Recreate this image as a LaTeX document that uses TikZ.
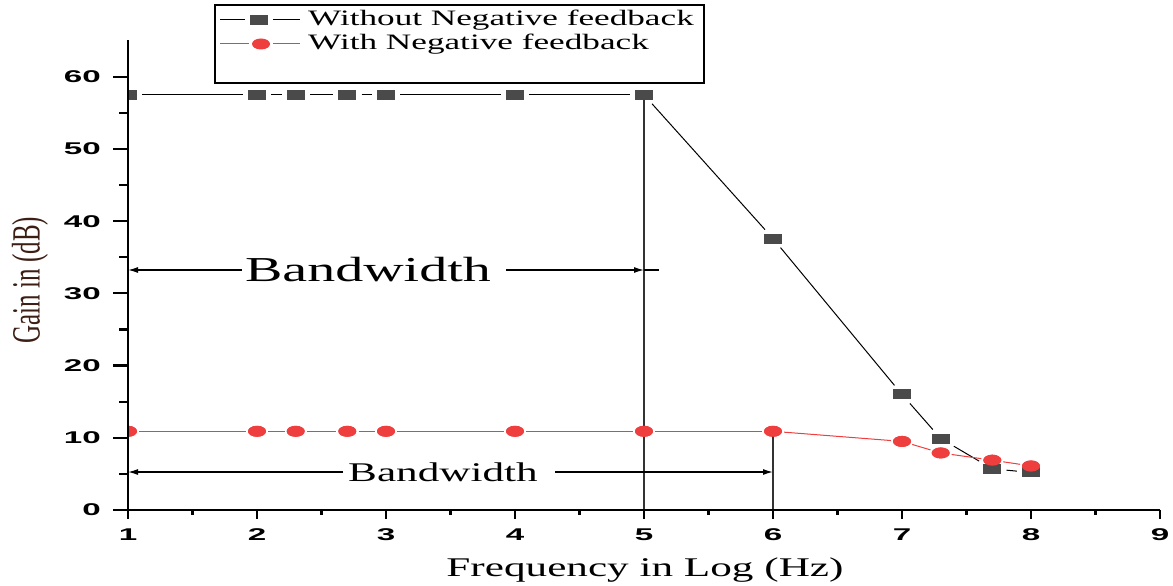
\documentclass[tikz,border=0pt]{standalone}
\usepackage{fontspec}
\usepackage{graphicx}
\usetikzlibrary{arrows.meta,shapes.geometric}
\newfontfamily\serifw{Liberation Serif}[FakeStretch=1.6]
\newfontfamily\serifn{Liberation Serif}[FakeStretch=0.625]
\newfontfamily\tickf{Liberation Sans}[FakeStretch=1.95]
\definecolor{mgray}{RGB}{74,74,74}
\definecolor{mred}{RGB}{238,62,62}
\definecolor{ylab}{RGB}{60,30,20}
\tikzset{
  axisline/.style={line width=2.6pt, black},
  majtick/.style={line width=2.2pt, black},
  bsq/.style={rectangle, fill=mgray, minimum width=18pt, minimum height=10pt, inner sep=0pt},
  rdot/.style={ellipse, fill=mred, minimum width=18pt, minimum height=11pt, inner sep=0pt},
  bline/.style={line width=1pt, black, shorten >=5pt, shorten <=5pt},
  rline/.style={line width=1pt, mred, shorten >=2pt, shorten <=2pt},
  guide/.style={line width=1.8pt, black!80},
  bwline/.style={line width=1.3pt, black},
  bwtip/.style={-{Latex[length=10pt,width=6pt]}},
  ticklab/.style={font=\tickf\bfseries\fontsize{17}{18}\selectfont, inner sep=0pt},
  bwtext/.style={inner xsep=3pt, inner ysep=0pt},
}
\begin{document}
\begin{tikzpicture}
\useasboundingbox (0pt,0pt) rectangle (1173pt,586pt);

% ---- plot area in data coordinates ----
\begin{scope}[shift={(-1pt,76pt)}, x=129pt, y=7.22pt]
  \coordinate (f5) at (5,0);
  \coordinate (f6) at (6,0);

  \begin{scope}
    \clip (1,-1) rectangle (9.3,66);
    % series without feedback
    \foreach \n/\x/\y in {1/1/57.5,2/2/57.5,3/2.3/57.5,4/2.7/57.5,5/3/57.5,6/4/57.5,7/5/57.5,
                          8/6/37.6,9/7/16,10/7.3/9.9,11/7.7/5.7,12/8/5.2}
      \node[bsq] (b\n) at (\x,\y) {};
    \draw[guide] (b7.center) -- (f5);
    \foreach \i/\j in {1/2,2/3,3/4,4/5,5/6,6/7,7/8,8/9,9/10,10/11,11/12}
      \draw[bline] (b\i) -- (b\j);
    % series with feedback
    \foreach \n/\x/\y in {1/1/10.9,2/2/10.9,3/2.3/10.9,4/2.7/10.9,5/3/10.9,6/4/10.9,7/5/10.9,
                          8/6/10.9,9/7/9.5,10/7.3/7.9,11/7.7/6.9,12/8/6.1}
      \node[rdot] (r\n) at (\x,\y) {};
    \draw[guide] (r8.center) -- (f6);
    \foreach \i/\j in {1/2,2/3,3/4,4/5,5/6,6/7,7/8,8/9,9/10,10/11,11/12}
      \draw[rline] (r\i) -- (r\j);
    % markers again, above the connecting and guide lines
    \foreach \x/\y in {1/57.5,2/57.5,2.3/57.5,2.7/57.5,3/57.5,4/57.5,5/57.5,
                       6/37.6,7/16,7.3/9.9,7.7/5.7}
      \node[bsq] at (\x,\y) {};
    \foreach \x/\y in {1/10.9,2/10.9,2.3/10.9,2.7/10.9,3/10.9,4/10.9,5/10.9,
                       6/10.9,7/9.5,7.3/7.9,7.7/6.9,8/6.1}
      \node[rdot] at (\x,\y) {};
  \end{scope}

  % axes
  \coordinate (ybot) at (1,0);
  \coordinate (ytop) at (1,65.1);
  \coordinate (xend) at (9,0);
  \draw[axisline] ([yshift=-2pt]ybot) -- (ytop);
  \draw[axisline] (ybot) -- (xend);
  \foreach \v in {0,10,...,60} {
    \draw[majtick] (1,\v) -- ++(-15pt,0);
    \node[ticklab, anchor=east] at ([xshift=-27pt]1,\v) {\v};
  }
  \foreach \v in {5,15,...,55}
    \draw[majtick] (1,\v) -- ++(-9pt,0);
  \foreach \u in {1,...,9} {
    \draw[majtick] (\u,0) -- ++(0,-9pt);
    \node[ticklab] at ([yshift=-25pt]\u,0) {\u};
  }
  \foreach \u in {1.5,2.5,...,8.5}
    \draw[majtick] (\u,0) -- ++(0,-5pt);

  % bandwidth without feedback
  \coordinate (bwAl) at (1,33.24);
  \coordinate (bwAr) at (5,33.24);
  \coordinate (bwAx) at ([xshift=15pt]5,33.24);
  \node[bwtext, font=\serifw\fontsize{35}{36}\selectfont] (bwA) at (2.86,33.24) {Bandwidth};
  \draw[bwline, bwtip] (bwA.west) -- (bwAl);
  \draw[bwline, bwtip] ([xshift=12pt]bwA.east) -- (bwAr);
  \draw[bwline] (bwAr) -- (bwAx);

  % bandwidth with feedback
  \coordinate (bwBl) at (1,5.26);
  \coordinate (bwBr) at (6,5.26);
  \node[bwtext, font=\serifw\fontsize{27}{28}\selectfont] (bwB) at (3.442,5.26) {Bandwidth};
  \draw[bwline, bwtip] ([xshift=-2pt]bwB.west) -- (bwBl);
  \draw[bwline, bwtip] ([xshift=14pt]bwB.east) -- (bwBr);
\end{scope}

% axis titles
\node[font=\serifw\fontsize{27}{28}\selectfont] (xt) at (645pt,16pt) {Frequency in Log (Hz)};
\node[font=\serifn\fontsize{40}{40}\selectfont, text=ylab, rotate=90] (yt) at (30pt,306pt) {Gain in (dB)};

% legend
\node[draw=black, line width=1.5pt, minimum width=489pt, minimum height=78pt, inner sep=0pt] (lg) at (459.5pt,542pt) {};
\coordinate (la1) at (220pt,566pt);
\coordinate (lb1) at (300pt,566pt);
\coordinate (la2) at (220pt,542pt);
\coordinate (lb2) at (300pt,542pt);
\node[bsq] (lm1) at (259pt,566pt) {};
\node[rdot] (lm2) at (261pt,542pt) {};
\draw[line width=1pt, black] (la1) -- ([xshift=-5pt]lm1.west);
\draw[line width=1pt, black] ([xshift=5pt]lm1.east) -- (lb1);
\draw[line width=1pt, mred] (la2) -- ([xshift=-3pt]lm2.west);
\draw[line width=1pt, mred] ([xshift=3pt]lm2.east) -- (lb2);
\node[anchor=west, inner sep=0pt, font=\serifw\fontsize{22}{24}\selectfont] (lt1) at (308pt,566pt) {Without Negative feedback};
\node[anchor=west, inner sep=0pt, font=\serifw\fontsize{22}{24}\selectfont] (lt2) at (308pt,542pt) {With Negative feedback};
\end{tikzpicture}
\end{document}
